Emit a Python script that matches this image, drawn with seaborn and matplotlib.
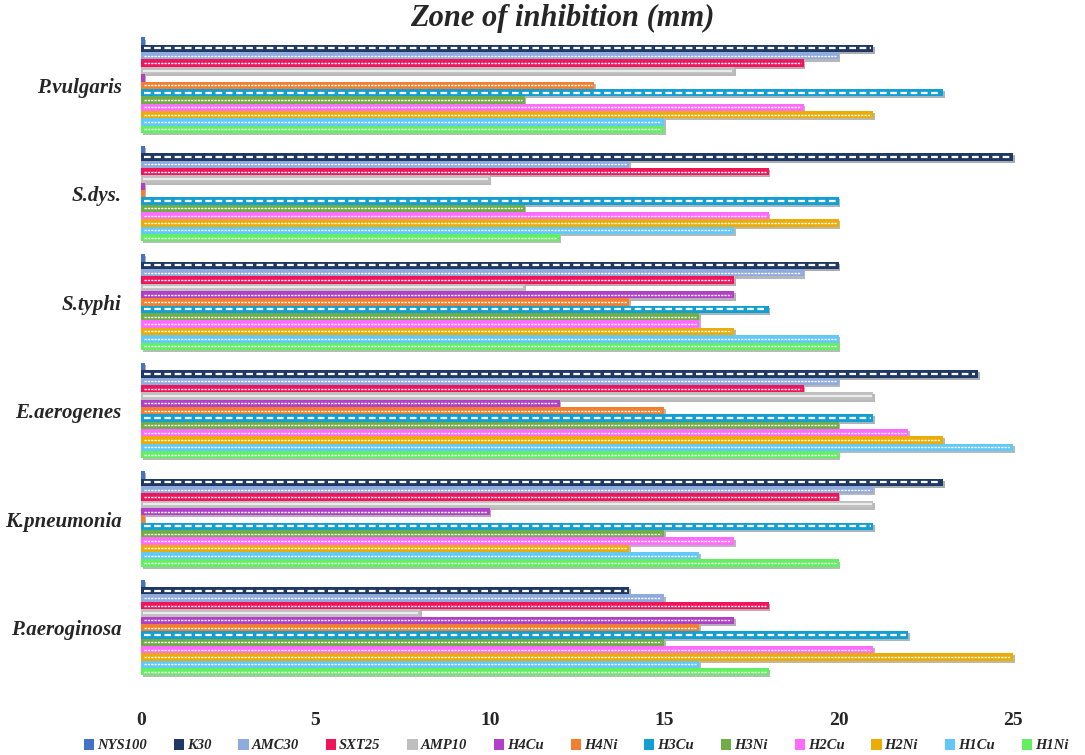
import matplotlib
matplotlib.use("Agg")
import matplotlib.pyplot as plt
import matplotlib.patheffects as pe
from matplotlib.patches import Patch
import seaborn as sns
import pandas as pd

categories = ["P.vulgaris", "S.dys.", "S.typhi", "E.aerogenes", "K.pneumonia", "P.aeroginosa"]
series_names = ["NYS100", "K30", "AMC30", "SXT25", "AMP10", "H4Cu", "H4Ni",
                "H3Cu", "H3Ni", "H2Cu", "H2Ni", "H1Cu", "H1Ni"]

NYS100 = [0.1, 0.1, 0.1, 0.1, 0.1, 0.1]
K30 = [21, 25, 20, 24, 23, 14]
AMC30 = [20, 14, 19, 20, 21, 15]
SXT25 = [19, 18, 17, 19, 20, 18]
AMP10 = [17, 10, 11, 21, 21, 8]
H4Cu = [0.1, 0.1, 17, 12, 10, 17]
H4Ni = [13, 0.1, 14, 15, 0.1, 16]
H3Cu = [23, 20, 18, 21, 21, 22]
H3Ni = [11, 11, 16, 20, 15, 15]
H2Cu = [19, 18, 16, 22, 17, 21]
H2Ni = [21, 20, 17, 23, 14, 25]
H1Cu = [15, 17, 20, 25, 16, 16]
H1Ni = [15, 12, 20, 20, 20, 18]

series_values = [NYS100, K30, AMC30, SXT25, AMP10, H4Cu, H4Ni,
                 H3Cu, H3Ni, H2Cu, H2Ni, H1Cu, H1Ni]
x_ticks = [0, 5, 10, 15, 20, 25]

colors = ["#4472C4", "#1F3864", "#8FAADC", "#F0145A", "#BFBFBF", "#B13FC8", "#F07F30",
          "#129FD4", "#70AD47", "#FF6BFF", "#ECAC08", "#62C8F8", "#62F062"]
palette = dict(zip(series_names, colors))

rows = []
for name, vals in zip(series_names, series_values):
    for cat, v in zip(categories, vals):
        rows.append({"Bacteria": cat, "Series": name, "Zone": v})
df = pd.DataFrame(rows)

sns.set_theme(style="white")
plt.rcParams["font.family"] = ["Liberation Serif", "DejaVu Serif"]

fig = plt.figure(figsize=(10.85, 7.55), dpi=100)
ax = fig.add_axes([0.13, 0.097, 0.81, 0.862])

sns.barplot(data=df, y="Bacteria", x="Zone", hue="Series", order=categories,
            hue_order=series_names, palette=palette, orient="h", width=0.88,
            gap=0.0, saturation=1, legend=False, ax=ax, linewidth=0)

for patch in ax.patches:
    patch.set_path_effects([pe.SimplePatchShadow(offset=(1.2, -1.5), alpha=0.35),
                            pe.Normal()])

# white dashed decoration along each bar (from the drawn patches)
skip_colors = {"#BFBFBF", "#4472C4"}
for patch in ax.patches:
    w = patch.get_width()
    if w < 0.5:
        continue
    y = patch.get_y() + patch.get_height() / 2
    x0 = patch.get_x()
    fc = matplotlib.colors.to_hex(patch.get_facecolor()).upper()
    if fc in skip_colors:
        ax.plot([x0 + 0.05, x0 + w - 0.05], [y, y], color="white", lw=1.6,
                alpha=0.7, solid_capstyle="butt", zorder=3)
        continue
    if fc in {"#1F3864", "#129FD4"}:
        dashes = (3, 1.6)
        lw = 1.6
    else:
        dashes = (1.6, 0.8)
        lw = 1.0
    ax.plot([x0 + 0.08, x0 + w - 0.08], [y, y], color="white", lw=lw,
            dashes=dashes, zorder=3)

ax.set_xlim(0, 25.2)
ax.set_ylim(len(categories) - 0.5, -0.5)
ax.set_xticks(x_ticks)
ax.set_xticklabels([str(t) for t in x_ticks], fontsize=14, fontweight="bold")
ax.set_yticks(range(len(categories)))
ax.set_yticklabels(categories, fontsize=15, fontweight="bold", fontstyle="italic")
ax.tick_params(axis="x", length=0, pad=22)
ax.tick_params(axis="y", length=0, pad=14)
ax.set_xlabel("")
ax.set_ylabel("")
for s in ax.spines.values():
    s.set_visible(False)
ax.grid(False)

fig.text(0.518, 0.976, "Zone of inhibition (mm)", fontsize=22, fontweight="bold",
         fontstyle="italic", ha="center", va="center")

handles = [Patch(facecolor=palette[n], edgecolor="none") for n in series_names]
fig.legend(handles, series_names, loc="lower center", bbox_to_anchor=(0.531, -0.014),
           ncol=13, frameon=False, handlelength=0.7, handleheight=0.8,
           handletextpad=0.2, columnspacing=1.85,
           prop={"size": 10.5, "weight": "bold", "style": "italic"})

fig.savefig("out.png", dpi=100)
